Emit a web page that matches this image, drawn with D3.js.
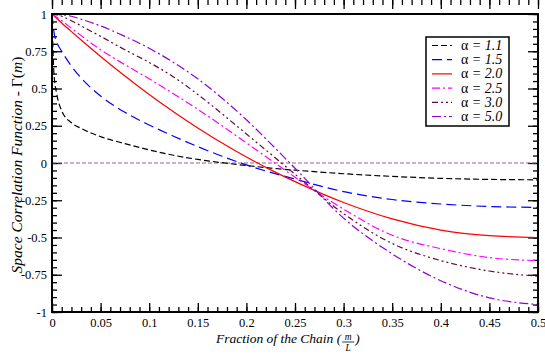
<!DOCTYPE html>
<html>
<head>
<meta charset="utf-8">
<script src="https://cdn.jsdelivr.net/npm/d3@7"></script>
<style>
  body { margin: 0; background: #fff; }
  svg text { font-family: "Liberation Serif", "Times New Roman", serif; }
</style>
</head>
<body>
<div id="chart"></div>
<script>
var fracs = [0, 0.002, 0.005, 0.01, 0.02, 0.03, 0.05, 0.075, 0.1, 0.125, 0.15, 0.175, 0.2, 0.225, 0.25, 0.3, 0.35, 0.4, 0.45, 0.5];

// space correlation values, one list per alpha
var a11 = [1, 0.6, 0.46, 0.35, 0.27, 0.232, 0.177, 0.13, 0.088, 0.052, 0.024, 0.002, -0.017, -0.034, -0.048, -0.072, -0.09, -0.103, -0.11, -0.113];
var a15 = [1, 0.88, 0.81, 0.75, 0.65, 0.57, 0.45, 0.34, 0.255, 0.18, 0.11, 0.045, -0.013, -0.063, -0.108, -0.192, -0.245, -0.275, -0.292, -0.298];
var a20 = [1, 0.988, 0.97, 0.94, 0.882, 0.825, 0.715, 0.584, 0.46, 0.344, 0.235, 0.134, 0.04, -0.046, -0.125, -0.265, -0.375, -0.45, -0.488, -0.5];
var a25 = [1, 0.99, 0.978, 0.955, 0.905, 0.855, 0.76, 0.66, 0.565, 0.465, 0.36, 0.25, 0.135, 0.02, -0.095, -0.31, -0.485, -0.575, -0.635, -0.655];
var a30 = [1, 0.999, 0.995, 0.985, 0.955, 0.92, 0.85, 0.76, 0.675, 0.578, 0.46, 0.33, 0.195, 0.06, -0.075, -0.34, -0.54, -0.655, -0.725, -0.76];
var a50 = [1, 1, 0.999, 0.995, 0.985, 0.965, 0.92, 0.85, 0.77, 0.675, 0.565, 0.435, 0.29, 0.13, -0.035, -0.37, -0.61, -0.79, -0.905, -0.95];
var zeroLine = [0, 0];

var labels = ["1.1", "1.5", "2.0", "2.5", "3.0", "5.0"];
var colors = ["#000000", "#0000ff", "#ff0000", "#ff00ff", "#670738", "#9400d3"];
var dashes = ["6,3", "10,5", null, "8,3,2,3", "6,3,2,3,2,3", "9,3,2,3"];
var allSeries = [a11, a15, a20, a25, a30, a50];

var xTicks = [0, 0.05, 0.1, 0.15, 0.2, 0.25, 0.3, 0.35, 0.4, 0.45, 0.5];
var yTicks = [-1, -0.75, -0.5, -0.25, 0, 0.25, 0.5, 0.75, 1];

var W = 545, H = 354;
var margin = {top: 14, right: 7, bottom: 42, left: 52};

var svg = d3.select("#chart").append("svg")
  .attr("width", W)
  .attr("height", H);

var x = d3.scaleLinear().domain([0, 0.5]).range([margin.left, W - margin.right]);
var y = d3.scaleLinear().domain([-1, 1]).range([H - margin.bottom, margin.top]);

var fmt = function(d) { return String(+d.toFixed(2)); };
var xMinor = d3.range(0, 0.5001, 0.01).map(function(d) { return +d.toFixed(2); });
var yMinor = d3.range(-1, 1.0001, 0.05).map(function(d) { return +d.toFixed(2); });

function tickAxis(axis, ticks, size, pad, transform) {
  var g = svg.append("g")
    .attr("transform", transform)
    .call(axis.tickValues(ticks).tickSize(size).tickPadding(pad || 3)
      .tickFormat(pad ? fmt : ""));
  g.select(".domain").remove();
  g.selectAll("line").attr("stroke", "#000").attr("stroke-width", 1.3);
  g.selectAll("text").attr("font-size", 12.5).attr("fill", "#000");
  return g;
}

var bottom = "translate(0," + y(-1) + ")", top = "translate(0," + y(1) + ")";
var left = "translate(" + x(0) + ",0)", right = "translate(" + x(0.5) + ",0)";

// minor ticks
tickAxis(d3.axisBottom(x), xMinor, -5, 0, bottom);
tickAxis(d3.axisTop(x), xMinor, -5, 0, top);
tickAxis(d3.axisLeft(y), yMinor, -5, 0, left);
tickAxis(d3.axisRight(y), yMinor, -5, 0, right);
// major ticks
tickAxis(d3.axisBottom(x), xTicks, -9, 6, bottom);
tickAxis(d3.axisTop(x), xTicks, -9, 0, top);
tickAxis(d3.axisLeft(y), yTicks, -10, 5, left);
tickAxis(d3.axisRight(y), yTicks, -10, 0, right);

// curves
var line = d3.line()
  .x(function(d) { return x(d[0]); })
  .y(function(d) { return y(d[1]); })
  .curve(d3.curveMonotoneX);

svg.append("path")
  .datum([[0, zeroLine[0]], [0.5, zeroLine[1]]])
  .attr("d", line)
  .attr("fill", "none")
  .attr("stroke", "#a05a92")
  .attr("stroke-width", 1.2)
  .attr("stroke-dasharray", "4,2");

allSeries.forEach(function(vals, i) {
  svg.append("path")
    .datum(fracs.map(function(f, j) { return [f, vals[j]]; }))
    .attr("d", line)
    .attr("fill", "none")
    .attr("stroke", colors[i])
    .attr("stroke-width", 1.2)
    .attr("stroke-dasharray", dashes[i]);
});

// frame
svg.append("rect")
  .attr("x", x(0)).attr("y", y(1))
  .attr("width", x(0.5) - x(0)).attr("height", y(-1) - y(1))
  .attr("fill", "none").attr("stroke", "#000").attr("stroke-width", 2);

// legend
var lg = svg.append("g").attr("transform", "translate(426,37)");
lg.append("rect").attr("width", 83).attr("height", 89)
  .attr("fill", "#fff").attr("stroke", "#000").attr("stroke-width", 1.5);
labels.forEach(function(lab, i) {
  var ly = 8.5 + i * 14.2;
  lg.append("line")
    .attr("x1", 6).attr("x2", 26).attr("y1", ly).attr("y2", ly)
    .attr("stroke", colors[i]).attr("stroke-width", 1.2)
    .attr("stroke-dasharray", dashes[i]);
  var t = lg.append("text").attr("x", 35).attr("y", ly + 4.5).attr("font-size", 14);
  t.append("tspan").text("\u03b1");
  t.append("tspan").attr("font-style", "italic").text(" = " + lab);
});

// axis titles
var yl = svg.append("text")
  .attr("transform", "translate(22," + ((y(1) + y(-1)) / 2 + 2) + ") rotate(-90)")
  .attr("text-anchor", "middle")
  .attr("font-size", 15.5);
yl.append("tspan").attr("font-style", "italic").text("Space Correlation Function - ");
yl.append("tspan").text("\u0393(");
yl.append("tspan").attr("font-style", "italic").text("m");
yl.append("tspan").text(")");

var xl = svg.append("text")
  .attr("x", 216).attr("y", 343)
  .attr("font-size", 13.5)
  .attr("font-style", "italic")
  .text("Fraction of the Chain (");
var fx = 216 + xl.node().getComputedTextLength() + 7;
svg.append("text").attr("x", fx).attr("y", 339.5).attr("text-anchor", "middle")
  .attr("font-size", 9.5).attr("font-style", "italic").text("m");
svg.append("line").attr("x1", fx - 6).attr("x2", fx + 6).attr("y1", 342).attr("y2", 342)
  .attr("stroke", "#000").attr("stroke-width", 0.8);
svg.append("text").attr("x", fx).attr("y", 351).attr("text-anchor", "middle")
  .attr("font-size", 9.5).attr("font-style", "italic").text("L");
svg.append("text").attr("x", fx + 7).attr("y", 343).attr("font-size", 13.5)
  .attr("font-style", "italic").text(")");
</script>
</body>
</html>
